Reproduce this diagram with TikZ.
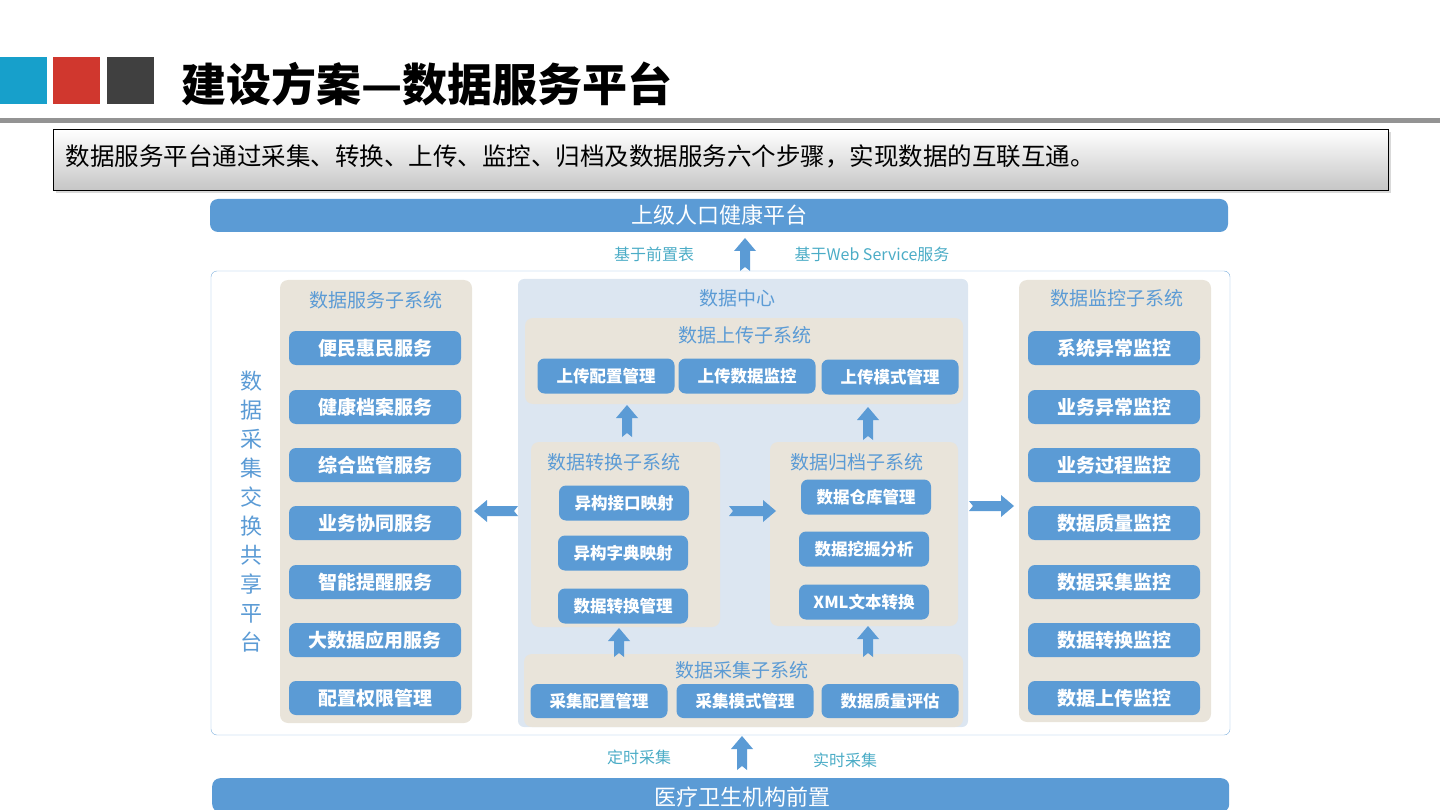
\documentclass[tikz,border=0pt]{standalone}
\usepackage{fontspec}
\setmainfont{Noto Sans CJK SC}
\usetikzlibrary{shadows}
\definecolor{cblue}{HTML}{5B9BD5}
\definecolor{sq1}{HTML}{17A0CB}
\definecolor{sq2}{HTML}{D0372E}
\definecolor{sq3}{HTML}{404040}
\definecolor{beige}{HTML}{E9E4DA}
\definecolor{pale}{HTML}{DCE6F1}
\definecolor{lbl}{HTML}{4BACC6}
\newcommand\fatarr[4]{\begin{scope}[shift={(#1,#2)},rotate=#3]
\fill[cblue] (0,-5) -- (#4-13,-5) -- (#4-13,-11) -- (#4,0) -- (#4-13,11) -- (#4-13,5) -- (0,5) -- (4,0) -- cycle;
\end{scope}}
\begin{document}
\begin{tikzpicture}[x=1pt,y=-1pt,
 item/.style={fill=cblue,rounded corners=7pt,text=white,font=\fontsize{19}{19}\selectfont\bfseries,minimum width=172pt,minimum height=34pt,inner sep=0pt},
 sitem/.style={fill=cblue,rounded corners=7pt,text=white,font=\fontsize{16.5}{16.5}\selectfont\bfseries,minimum width=137pt,minimum height=35pt,inner sep=0pt},
 mitem/.style={sitem,minimum width=136pt},
 panel/.style={fill=beige,rounded corners=8pt},
 ptitle/.style={text=cblue,font=\fontsize{19}{19}\selectfont},
 bar/.style={fill=cblue,rounded corners=8pt,text=white,font=\fontsize{22}{22}\selectfont},
 lab/.style={text=lbl,font=\fontsize{16}{16}\selectfont}]
\useasboundingbox (0,0) rectangle (1440,810);
% header
\fill[sq1] (0,57) rectangle (47,104);
\fill[sq2] (53,57) rectangle (100,104);
\fill[sq3] (107,57) rectangle (154,104);
\node[anchor=west,font=\fontsize{45}{45}\selectfont\bfseries] (title) at (178,84) {建设方案—数据服务平台};
\fill[gray!85] (0,118) rectangle (1440,123);
\node[draw=black,top color=white,bottom color=gray!45,minimum width=1335pt,minimum height=61pt,anchor=north west,drop shadow={opacity=0.3}] (descbox) at (53,129) {};
\node[anchor=west,font=\fontsize{24.5}{24.5}\selectfont] (desc) at (62,156) {数据服务平台通过采集、转换、上传、监控、归档及数据服务六个步骤，实现数据的互联互通。};
% top bar
\node[bar,minimum width=1018pt,minimum height=33pt] (top) at (719,215.5) {上级人口健康平台};
\node[lab] (l1) at (654,254) {基于前置表};
\node[lab] (l2) at (872,254) {基于Web Service服务};
\fatarr{745}{271}{90}{33}
% frame
\draw[cblue!80,rounded corners=6pt] (211,271) rectangle (1230,735);
\node[text=cblue,font=\fontsize{22}{29}\selectfont,align=center] (vt) at (251,512) {数\\据\\采\\集\\交\\换\\共\\享\\平\\台};
% left panel
\fill[panel] (280,280) rectangle (472,723);
\node[ptitle] (lt) at (376,300) {数据服务子系统};
\foreach \t/\y [count=\i] in {便民惠民服务/348,健康档案服务/407,综合监管服务/465,业务协同服务/523,智能提醒服务/582,大数据应用服务/640,配置权限管理/698}
 \node[item] (s\i) at (375,\y) {\t};
% center
\fill[pale,rounded corners=6pt] (518,279) rectangle (968,727);
\node[ptitle] (dc) at (737,298) {数据中心};
\fill[panel] (525,318) rectangle (963,404);
\node[ptitle] (ut) at (745,335) {数据上传子系统};
\node[sitem] (u1) at (606,376) {上传配置管理};
\node[sitem] (u2) at (747,376) {上传数据监控};
\node[sitem] (u3) at (890,377) {上传模式管理};
\fill[panel] (531,442) rectangle (720,627);
\node[ptitle] (ct) at (614,462) {数据转换子系统};
\node[mitem,minimum width=130pt] (c1) at (624,503) {异构接口映射};
\node[mitem,minimum width=130pt] (c2) at (623,553) {异构字典映射};
\node[mitem,minimum width=130pt] (c3) at (623,606) {数据转换管理};
\fill[panel] (770,442) rectangle (958,626);
\node[ptitle] (at) at (857,462) {数据归档子系统};
\node[mitem,minimum width=130pt] (a1) at (866,497) {数据仓库管理};
\node[mitem,minimum width=130pt] (a2) at (864,549) {数据挖掘分析};
\node[mitem,minimum width=130pt] (a3) at (864,602) {XML文本转换};
\fill[panel] (524,654) rectangle (963,727);
\node[ptitle] (gt) at (742,670) {数据采集子系统};
\node[sitem,minimum height=34pt] (g1) at (599,701) {采集配置管理};
\node[sitem,minimum height=34pt] (g2) at (745,701) {采集模式管理};
\node[sitem,minimum height=34pt] (g3) at (890,701) {数据质量评估};
% right panel
\fill[panel] (1019,280) rectangle (1211,722);
\node[ptitle] (rt) at (1117,298) {数据监控子系统};
\foreach \t/\y [count=\i] in {系统异常监控/348,业务异常监控/407,业务过程监控/465,数据质量监控/523,数据采集监控/582,数据转换监控/640,数据上传监控/698}
 \node[item] (m\i) at (1114,\y) {\t};
% arrows
\fatarr{627}{437}{90}{32}
\fatarr{868}{440}{90}{33}
\fatarr{619}{657}{90}{29}
\fatarr{868}{657}{90}{31}
\fatarr{518}{511}{180}{44}
\fatarr{729}{511}{0}{47}
\fatarr{969}{506}{0}{45}
\fatarr{742}{770}{90}{34}
\node[lab] (l3) at (639,757) {定时采集};
\node[lab] (l4) at (845,760) {实时采集};
\node[bar,minimum width=1017pt,minimum height=34pt,anchor=north west] (bot) at (212,778) {};
\node[text=white,font=\fontsize{22}{22}\selectfont] (botl) at (742,797) {医疗卫生机构前置};
\end{tikzpicture}
\end{document}
